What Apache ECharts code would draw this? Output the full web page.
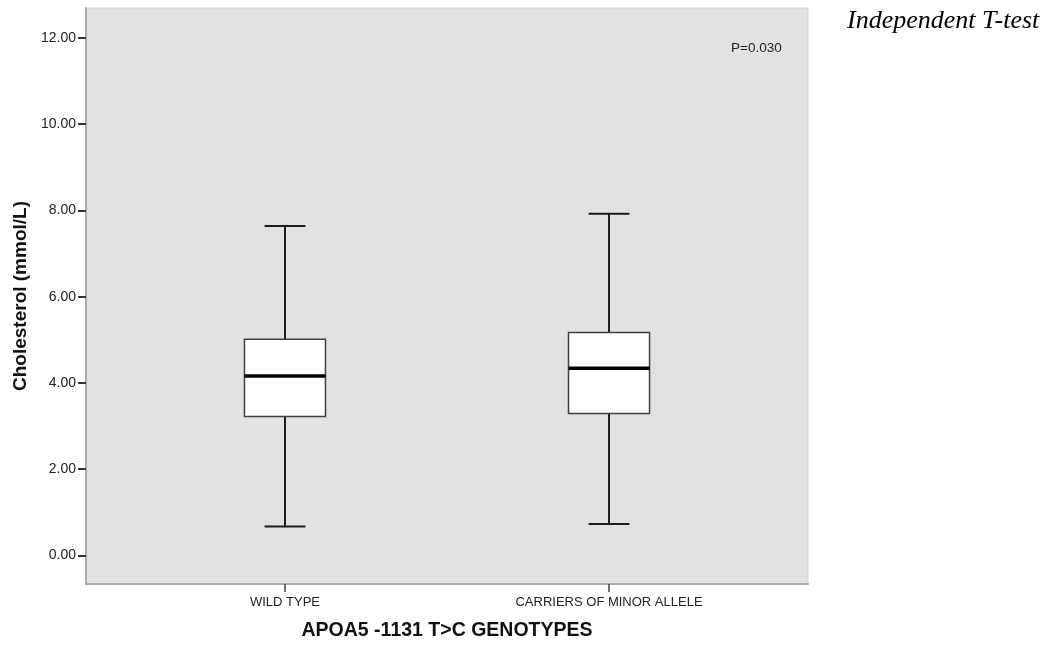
<!DOCTYPE html>
<html>
<head>
<meta charset="utf-8">
<script src="https://cdn.jsdelivr.net/npm/echarts@6/dist/echarts.min.js"></script>
<style>
  html, body { margin: 0; padding: 0; background: #ffffff; }
  #chart { width: 1048px; height: 646px; }
</style>
</head>
<body>
<div id="chart"></div>
<script>
// Genotype groups and their five-number summaries (mmol/L)
const categories = ['WILD TYPE', 'CARRIERS OF MINOR ALLELE'];
const whiskerLow = [0.67, 0.73];
const q1 = [3.22, 3.29];
const median = [4.16, 4.34];
const q3 = [5.01, 5.17];
const whiskerHigh = [7.64, 7.92];
const yTicks = [0, 2, 4, 6, 8, 10, 12];
const pValueText = 'P=0.030';

const SANS = 'Liberation Sans, Arial, sans-serif';
const BOX_HALF = 0.125;   // half box width in x-axis units
const CAP_HALF = 0.063;   // half whisker-cap width in x-axis units

const boxData = categories.map((c, i) => [i, whiskerLow[i], q1[i], median[i], q3[i], whiskerHigh[i]]);

function renderBox(params, api) {
  const x = api.value(0);
  const lo = api.value(1), a = api.value(2), m = api.value(3), b = api.value(4), hi = api.value(5);
  const pt = (dx, v) => api.coord([x + dx, v]);
  const pLo = pt(0, lo), pA = pt(0, a), pB = pt(0, b), pHi = pt(0, hi);
  const bl = pt(-BOX_HALF, b), br = pt(BOX_HALF, a);
  const capL = pt(-CAP_HALF, 0)[0], capR = pt(CAP_HALF, 0)[0];
  const boxL = pt(-BOX_HALF, 0)[0], boxR = pt(BOX_HALF, 0)[0];
  const pM = pt(0, m);
  const whisk = { stroke: '#1c1c1c', lineWidth: 2 };
  return {
    type: 'group',
    children: [
      { type: 'line', shape: { x1: pHi[0], y1: pHi[1], x2: pB[0], y2: pB[1] }, style: whisk },
      { type: 'line', shape: { x1: pA[0], y1: pA[1], x2: pLo[0], y2: pLo[1] }, style: whisk },
      { type: 'line', shape: { x1: capL, y1: pHi[1], x2: capR, y2: pHi[1] }, style: whisk },
      { type: 'line', shape: { x1: capL, y1: pLo[1], x2: capR, y2: pLo[1] }, style: whisk },
      { type: 'rect', shape: { x: bl[0], y: bl[1], width: br[0] - bl[0], height: br[1] - bl[1] },
        style: { fill: '#ffffff', stroke: '#404040', lineWidth: 1.5 } },
      { type: 'line', shape: { x1: boxL, y1: pM[1], x2: boxR, y2: pM[1] },
        style: { stroke: '#000000', lineWidth: 3.5 } }
    ]
  };
}

const chart = echarts.init(document.getElementById('chart'), null, { renderer: 'canvas' });
chart.setOption({
  animation: false,
  backgroundColor: '#ffffff',
  title: {
    text: 'Independent T-test',
    left: 842,
    top: 3,
    textStyle: { fontFamily: 'Liberation Serif, Times New Roman, serif', fontStyle: 'italic',
                 fontWeight: 'normal', fontSize: 26, color: '#000' }
  },
  grid: {
    left: 86, right: 240, top: 8, bottom: 60,
    show: true, backgroundColor: '#e2e2e2', borderColor: '#d2d2d2', borderWidth: 1
  },
  xAxis: {
    type: 'value',
    min: -0.614, max: 1.614,
    name: 'APOA5 -1131 T>C GENOTYPES',
    nameLocation: 'middle',
    nameGap: 37,
    nameTextStyle: { fontFamily: SANS, fontWeight: 'bold', fontSize: 19.5, color: '#111' },
    axisLine: { show: true, onZero: false, lineStyle: { color: '#ababab', width: 2 } },
    axisTick: { show: true, customValues: [0, 1], length: 8, lineStyle: { color: '#444', width: 1.5 } },
    axisLabel: {
      customValues: [0, 1],
      formatter: v => categories[Math.round(v)] || '',
      margin: 12,
      fontFamily: SANS, fontSize: 13, color: '#222'
    },
    splitLine: { show: false }
  },
  yAxis: {
    type: 'value',
    min: -0.66, max: 12.69,
    name: 'Cholesterol (mmol/L)',
    nameLocation: 'middle',
    nameGap: 53,
    nameRotate: 90,
    nameTextStyle: { fontFamily: SANS, fontWeight: 'bold', fontSize: 19, color: '#111' },
    axisLine: { show: true, onZero: false, lineStyle: { color: '#ababab', width: 2 } },
    axisTick: { show: true, customValues: yTicks, length: 8, lineStyle: { color: '#333', width: 2 } },
    axisLabel: {
      customValues: yTicks,
      formatter: v => v.toFixed(2),
      margin: 10,
      fontFamily: SANS, fontSize: 14, color: '#222'
    },
    splitLine: { show: false }
  },
  graphic: [{
    type: 'text',
    left: 731,
    top: 41,
    style: { text: pValueText, font: '13.5px ' + SANS, fill: '#222' }
  }],
  series: [{
    type: 'custom',
    renderItem: renderBox,
    encode: { x: 0, y: [1, 2, 3, 4, 5] },
    data: boxData,
    silent: true
  }]
});
</script>
</body>
</html>
